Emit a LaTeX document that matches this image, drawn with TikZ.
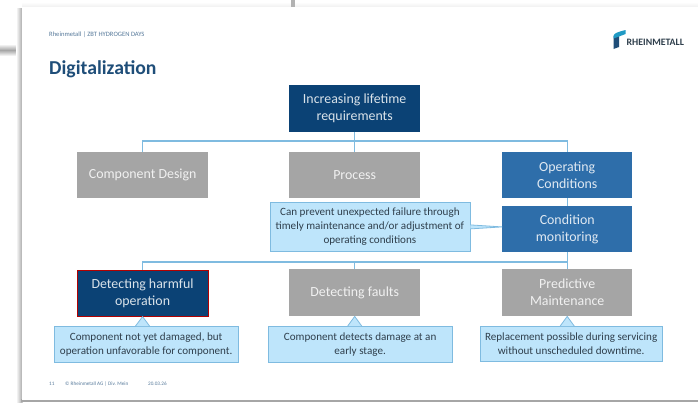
\documentclass[tikz,border=0pt]{standalone}
\usepackage{fontspec}
\setmainfont{Carlito}
\usetikzlibrary{shapes.geometric,calc}
\definecolor{navy}{HTML}{0B4275}
\definecolor{midblue}{HTML}{2E6EAA}
\definecolor{greybox}{HTML}{A5A5A5}
\definecolor{wire}{HTML}{7FBBE0}
\definecolor{notefill}{HTML}{BEE5FB}
\definecolor{notetext}{HTML}{2F3F4C}
\definecolor{titleblue}{HTML}{1F4E79}
\tikzset{
  x=1pt,y=-1pt,
  box/.style={rectangle,minimum width=131pt,minimum height=47pt,inner sep=1pt,align=center,
    font=\fontsize{13.9}{17}\selectfont,anchor=north west},
  darkbox/.style={box,fill=navy,text=white!85!navy},
  bluebox/.style={box,fill=midblue,text=white!85!midblue},
  greyb/.style={box,fill=greybox,text=white!85!greybox},
  redbox/.style={darkbox,draw=red!70!black,line width=1.1pt},
  note/.style={rectangle,fill=notefill,draw=wire,line width=.8pt,inner sep=1pt,align=center,
    text=notetext,font=\fontsize{11.1}{14}\selectfont,anchor=north west},
  wireline/.style={draw=wire,line width=1.1pt},
  pointer/.style={fill=notefill,draw=wire,line width=.8pt,line join=round},
  smalltext/.style={anchor=west,inner sep=0pt,text=titleblue!75,font=\fontsize{5.2}{6}\selectfont},
}
\begin{document}
\begin{tikzpicture}
\useasboundingbox (0,0) rectangle (698,402);
\fill[white] (0,0) rectangle (698,402);
% backdrop slides and shadows
\shade[top color=white,bottom color=gray!12] (22,2) rectangle (698,7);
\fill[gray!60] (291,0) rectangle (295,7);
\shade[top color=white,bottom color=gray!70] (0,44) rectangle (22,50);
\shade[top color=gray!70,bottom color=white] (0,50) rectangle (22,56);
\shade[left color=white,right color=gray!70] (16,8) rectangle (22.5,402);
\fill[gray!70] (21,399) rectangle (698,402);
\fill[white] (22,7) rectangle (698,399.5);
% header
\node[smalltext,font=\fontsize{6.6}{8}\selectfont] (head) at (49,35) {Rheinmetall | ZBT HYDROGEN DAYS};
\node[anchor=west,inner sep=0pt,text=titleblue,font=\fontsize{19.7}{22}\selectfont\bfseries] (title) at (49,69) {Digitalization};
\fill[titleblue] (613.5,36) -- (619,33) -- (619,47) -- (613.5,49) -- cycle;
\fill[midblue!70!cyan] (613.5,36) .. controls (614,33) and (618,32) .. (625.5,30) -- (625.5,34) -- (619,36.5) -- (613.5,38.5) -- cycle;
\node[anchor=west,inner sep=0pt,text=notetext,font=\fontsize{9.8}{10}\selectfont\bfseries] (logo) at (626.5,42.5) {RHEINMETALL};
% boxes
\node[darkbox] (top) at (289,85) {Increasing lifetime\\requirements};
\node[greyb,minimum height=46pt] (cd) at (77,152) {Component Design};
\node[greyb,minimum height=46pt] (proc) at (289,152) {Process};
\node[bluebox,minimum height=46pt,minimum width=130pt] (oc) at (502,152) {Operating\\Conditions};
\node[bluebox,minimum height=46pt,minimum width=130pt] (cm) at (502,206) {Condition\\monitoring};
\node[redbox,minimum height=46pt] (dh) at (76.5,269.5) {Detecting harmful\\operation};
\node[greyb] (df) at (289,269) {Detecting faults};
\node[greyb,minimum width=130pt] (pm) at (502,269) {Predictive\\Maintenance};
% connectors
\coordinate (busa) at (350,141);
\coordinate (busb) at (350,262);
\draw[wireline] (top.south) -- (top.south |- busa);
\draw[wireline] (cd.north) |- (busa) -| (oc.north);
\draw[wireline] (top.south |- busa) -- (proc.north);
\draw[wireline] (oc.south) -- (cm.north);
\draw[wireline] (cm.south) -- (pm.north);
\draw[wireline] (dh.north) |- (busb) -| (pm.north);
\draw[wireline] (df.north |- busb) -- (df.north);
% notes
\node[note,minimum width=200pt,minimum height=49pt] (n0) at (269.5,202) {Can prevent unexpected failure through\\timely maintenance and/or adjustment of\\operating conditions};
\node[note,minimum width=184.5pt,minimum height=36pt] (n1) at (53.5,326) {Component not yet damaged, but\\operation unfavorable for component.};
\node[note,minimum width=184.5pt,minimum height=36pt] (n2) at (267.5,326) {Component detects damage at an\\early stage.};
\node[note,minimum width=182.5pt,minimum height=35pt] (n3) at (479.5,326) {Replacement possible during servicing\\without unscheduled downtime.};
% pointers
\draw[pointer] ($(n0.east)+(0,-2)$) -- (cm.west |- n0.east) -- ($(n0.east)+(0,2)$);
\draw[pointer] ($(n1.north -| dh.south)+(-7,0)$) -- (dh.south) -- ($(n1.north -| dh.south)+(7,0)$);
\draw[pointer] ($(n2.north -| df.south)+(-7,0)$) -- (df.south) -- ($(n2.north -| df.south)+(7,0)$);
\draw[pointer] ($(n3.north -| pm.south)+(-7,0)$) -- (pm.south) -- ($(n3.north -| pm.south)+(7,0)$);
% footer
\node[smalltext] (foot) at (49,384) {11};
\node[smalltext] (foota) at (65,384) {© Rheinmetall AG | Div. Mein};
\node[smalltext] (footb) at (148,384) {20.03.26};
\end{tikzpicture}
\end{document}
